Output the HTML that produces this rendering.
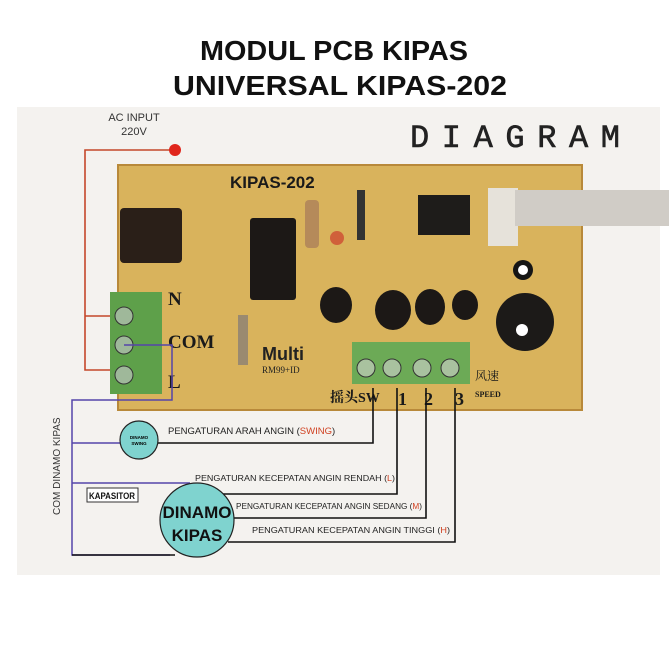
<!DOCTYPE html>
<html><head><meta charset="utf-8"><style>
html,body{margin:0;padding:0;background:#fff;}
svg{display:block}
</style></head><body>
<svg width="669" height="669" viewBox="0 0 669 669" xmlns="http://www.w3.org/2000/svg">
<rect width="669" height="669" fill="#fff"/>
<text x="334" y="60" text-anchor="middle" font-family="Liberation Sans, sans-serif" font-weight="bold" font-size="28" textLength="268" lengthAdjust="spacingAndGlyphs" fill="#111">MODUL PCB KIPAS</text>
<text x="340" y="95" text-anchor="middle" font-family="Liberation Sans, sans-serif" font-weight="bold" font-size="28" textLength="334" lengthAdjust="spacingAndGlyphs" fill="#111">UNIVERSAL KIPAS-202</text>
<rect x="17" y="107" width="643" height="468" fill="#f4f2ef"/>
<text x="410" y="147" font-family="Liberation Mono, monospace" font-size="32" textLength="210" fill="#222" stroke="#222" stroke-width="0.6">DIAGRAM</text>
<text x="134" y="121" text-anchor="middle" font-family="Liberation Sans, sans-serif" font-size="11" fill="#333">AC INPUT</text>
<text x="134" y="135" text-anchor="middle" font-family="Liberation Sans, sans-serif" font-size="11" fill="#333">220V</text>
<polyline points="175,150 85,150 85,370 112,370" fill="none" stroke="#c4472a" stroke-width="1.6"/>
<line x1="85" y1="316" x2="112" y2="316" stroke="#c4472a" stroke-width="1.6"/>
<circle cx="175" cy="150" r="6" fill="#e0261c"/>
<rect x="118" y="165" width="464" height="245" fill="#d9b35c"/>
<rect x="118" y="165" width="464" height="245" fill="none" stroke="#b8893a" stroke-width="2"/>
<text x="230" y="188" font-family="Liberation Sans, sans-serif" font-weight="bold" font-size="17" fill="#1a1a1a">KIPAS-202</text>
<rect x="120" y="208" width="62" height="55" rx="4" fill="#2a1f18"/>
<rect x="250" y="218" width="46" height="82" rx="3" fill="#1c1816"/>
<rect x="305" y="200" width="14" height="48" rx="4" fill="#b58a5a"/>
<circle cx="337" cy="238" r="7" fill="#d0603a"/>
<rect x="357" y="190" width="8" height="50" fill="#333"/>
<rect x="418" y="195" width="52" height="40" fill="#1e1c1a"/>
<rect x="488" y="188" width="30" height="58" fill="#e6e2da"/>
<rect x="515" y="190" width="154" height="36" fill="#d0ccc6"/>
<circle cx="523" cy="270" r="10" fill="#151515"/>
<circle cx="523" cy="270" r="5" fill="#fff"/>
<circle cx="525" cy="322" r="29" fill="#1c1a18"/>
<circle cx="522" cy="330" r="6" fill="#fff"/>
<ellipse cx="336" cy="305" rx="16" ry="18" fill="#1c1816"/>
<ellipse cx="393" cy="310" rx="18" ry="20" fill="#1c1816"/>
<ellipse cx="430" cy="307" rx="15" ry="18" fill="#1c1816"/>
<ellipse cx="465" cy="305" rx="13" ry="15" fill="#1c1816"/>
<rect x="238" y="315" width="10" height="50" fill="#9a8a70"/>
<text x="262" y="360" font-family="Liberation Sans, sans-serif" font-weight="bold" font-size="18" fill="#222">Multi</text>
<text x="262" y="373" font-family="Liberation Serif, serif" font-size="9" fill="#222">RM99+ID</text>
<text x="168" y="305" font-family="Liberation Serif, serif" font-weight="bold" font-size="19" fill="#1a1a1a">N</text>
<text x="168" y="348" font-family="Liberation Serif, serif" font-weight="bold" font-size="19" fill="#1a1a1a">COM</text>
<text x="168" y="388" font-family="Liberation Serif, serif" font-weight="bold" font-size="19" fill="#1a1a1a">L</text>
<rect x="110" y="292" width="52" height="102" fill="#5ea04a"/>
<circle cx="124" cy="316" r="9" fill="#9fb89a" stroke="#333"/>
<circle cx="124" cy="345" r="9" fill="#9fb89a" stroke="#333"/>
<circle cx="124" cy="375" r="9" fill="#9fb89a" stroke="#333"/>
<rect x="352" y="342" width="118" height="42" fill="#6caa56"/>
<circle cx="366" cy="368" r="9" fill="#a9c29f" stroke="#333"/>
<circle cx="392" cy="368" r="9" fill="#a9c29f" stroke="#333"/>
<circle cx="422" cy="368" r="9" fill="#a9c29f" stroke="#333"/>
<circle cx="450" cy="368" r="9" fill="#a9c29f" stroke="#333"/>
<text x="330" y="402" font-family="Liberation Serif, 'Noto Serif CJK SC', serif" font-weight="bold" font-size="14" fill="#1a1a1a">摇头SW</text>
<text x="398" y="405" font-family="Liberation Serif, serif" font-weight="bold" font-size="18" fill="#1a1a1a">1</text>
<text x="424" y="405" font-family="Liberation Serif, serif" font-weight="bold" font-size="18" fill="#1a1a1a">2</text>
<text x="455" y="405" font-family="Liberation Serif, serif" font-weight="bold" font-size="18" fill="#1a1a1a">3</text>
<text x="475" y="380" font-family="'Noto Serif CJK SC', serif" font-size="12" fill="#1a1a1a">风速</text>
<text x="475" y="397" font-family="Liberation Serif, serif" font-weight="bold" font-size="8" fill="#1a1a1a">SPEED</text>
<polyline points="124,345 172,345 172,400 72,400 72,555 170,555" fill="none" stroke="#5544aa" stroke-width="1.5"/>
<line x1="72" y1="443" x2="120" y2="443" stroke="#5544aa" stroke-width="1.5"/>
<line x1="72" y1="483" x2="190" y2="483" stroke="#5544aa" stroke-width="1.5"/>
<g fill="none" stroke="#111" stroke-width="1.6">
<polyline points="373,388 373,443 158,443"/>
<polyline points="397,388 397,494 222,494"/>
<polyline points="426,388 426,518 234,518"/>
<polyline points="455,388 455,542 228,542"/>
<line x1="72" y1="555" x2="175" y2="555"/>
</g>
<circle cx="139" cy="440" r="19" fill="#7fd3cf" stroke="#222" stroke-width="1.2"/>
<text x="139" y="439" text-anchor="middle" font-family="Liberation Sans, sans-serif" font-weight="bold" font-size="4.5">DINAMO</text>
<text x="139" y="445" text-anchor="middle" font-family="Liberation Sans, sans-serif" font-weight="bold" font-size="4.5">SWING</text>
<rect x="87" y="488" width="51" height="14" fill="#fff" stroke="#333"/>
<text x="112" y="499" text-anchor="middle" font-family="Liberation Sans, sans-serif" font-weight="bold" font-size="9" textLength="46" lengthAdjust="spacingAndGlyphs" fill="#111">KAPASITOR</text>
<circle cx="197" cy="520" r="37" fill="#7fd3cf" stroke="#222" stroke-width="1.2"/>
<text x="197" y="518" text-anchor="middle" font-family="Liberation Sans, sans-serif" font-weight="bold" font-size="17" fill="#111">DINAMO</text>
<text x="197" y="541" text-anchor="middle" font-family="Liberation Sans, sans-serif" font-weight="bold" font-size="17" fill="#111">KIPAS</text>
<g font-family="Liberation Sans, sans-serif" fill="#222">
<text x="168" y="434" font-size="9.5">PENGATURAN ARAH ANGIN (<tspan fill="#d04020">SWING</tspan>)</text>
<text x="195" y="481" font-size="8" textLength="200" lengthAdjust="spacingAndGlyphs">PENGATURAN KECEPATAN ANGIN RENDAH (<tspan fill="#d04020">L</tspan>)</text>
<text x="236" y="509" font-size="8" textLength="186" lengthAdjust="spacingAndGlyphs">PENGATURAN KECEPATAN ANGIN SEDANG (<tspan fill="#d04020">M</tspan>)</text>
<text x="252" y="533" font-size="8" textLength="198" lengthAdjust="spacingAndGlyphs">PENGATURAN KECEPATAN ANGIN TINGGI (<tspan fill="#d04020">H</tspan>)</text>
</g>
<text transform="translate(60,515) rotate(-90)" font-family="Liberation Sans, sans-serif" font-size="10" fill="#333">COM DINAMO KIPAS</text>
</svg>
</body></html>
